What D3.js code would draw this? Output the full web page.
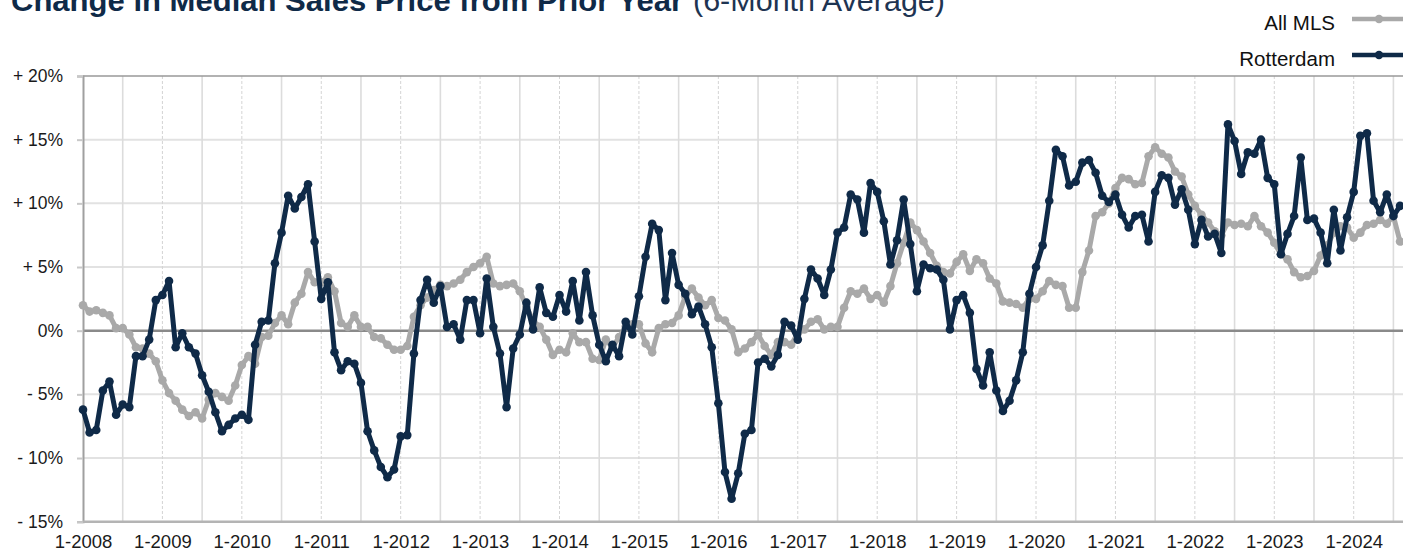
<!DOCTYPE html>
<html>
<head>
<meta charset="utf-8">
<script src="https://cdn.jsdelivr.net/npm/d3@7"></script>
<style>
  html, body { margin: 0; padding: 0; background: #fff; }
  svg { display: block; font-family: "Liberation Sans", Arial, sans-serif; }
</style>
</head>
<body>
<svg id="Trend" width="1403" height="552"></svg>
<script>
// Monthly values, 1-2008 .. 8-2024 (6-month average, % change from prior year)
const allMls = [
  2.0, 1.5, 1.6, 1.4, 1.2, 0.2, 0.2, -0.3, -1.3, -1.4, -1.8, -2.4,
  -3.9, -4.9, -5.5, -6.2, -6.7, -6.4, -6.9, -5.4, -4.9, -5.2, -5.5, -4.3,
  -2.7, -2.0, -2.6, -0.5, -0.4, 0.6, 1.2, 0.5, 2.2, 2.9, 4.6, 3.8,
  3.8, 4.2, 3.1, 0.6, 0.3, 1.2, 0.3, 0.3, -0.5, -0.6, -1.1, -1.5,
  -1.5, -1.2, 1.1, 2.0, 2.6, 3.2, 3.6, 3.5, 3.7, 4.0, 4.6, 5.0,
  5.3, 5.8, 3.7, 3.5, 3.6, 3.7, 3.1, 1.9, 0.8, 0.3, -0.7, -1.9,
  -1.5, -1.7, -0.2, -0.9, -0.9, -2.2, -2.3, -0.7, -1.3, -0.5, 0.3, 0.5,
  0.5, -1.0, -1.7, 0.2, 0.5, 0.6, 1.2, 2.7, 3.3, 2.6, 2.0, 2.4,
  1.0, 0.8, 0.1, -1.7, -1.4, -0.9, -0.3, -1.2, -1.9, -0.9, -0.9, -1.1,
  -0.2, 0.1, 0.7, 0.9, 0.1, 0.3, 0.3, 1.8, 3.1, 2.9, 3.3, 2.5,
  2.8, 2.2, 3.5, 5.3, 6.9, 8.5, 7.9, 7.0, 6.1, 5.1, 4.6, 4.5,
  5.4, 6.0, 4.7, 5.6, 5.3, 4.1, 3.7, 2.3, 2.2, 2.1, 1.8, 2.5,
  2.5, 3.1, 3.9, 3.6, 3.5, 1.8, 1.8, 4.6, 6.3, 9.0, 9.3, 10.0,
  11.2, 12.0, 11.9, 11.5, 11.6, 13.7, 14.4, 13.9, 13.6, 12.5, 12.1, 10.7,
  9.8, 9.1, 8.5, 7.8, 7.5, 8.5, 8.3, 8.4, 8.2, 9.0, 8.2, 7.7,
  6.9, 6.0, 5.6, 4.6, 4.2, 4.3, 4.7, 5.9, 6.7, 7.7, 8.2, 8.1,
  7.3, 7.7, 8.3, 8.4, 8.7, 8.4, 9.0, 7.0
];

const rotterdam = [
  -6.2, -8.0, -7.8, -4.7, -4.0, -6.6, -5.8, -6.0, -2.0, -2.0, -0.7, 2.4,
  2.8, 3.9, -1.3, -0.2, -1.3, -1.8, -3.5, -4.8, -6.4, -7.9, -7.4, -6.9,
  -6.6, -7.0, -1.1, 0.7, 0.8, 5.3, 7.7, 10.6, 9.6, 10.5, 11.5, 7.0,
  2.5, 3.8, -1.7, -3.1, -2.4, -2.6, -4.1, -7.9, -9.4, -10.7, -11.5, -10.9,
  -8.3, -8.2, -1.8, 2.4, 4.0, 2.2, 3.5, 0.3, 0.5, -0.7, 2.4, 2.4,
  -0.2, 4.1, 0.3, -1.8, -6.0, -1.4, -0.3, 2.2, 0.1, 3.4, 1.4, 1.1,
  2.8, 1.5, 3.9, 0.8, 4.6, 1.2, -1.1, -2.4, -1.1, -2.0, 0.7, -0.3,
  2.7, 5.8, 8.4, 7.9, 2.4, 6.1, 3.6, 2.9, 1.3, 1.9, 0.5, -1.3,
  -5.7, -11.1, -13.2, -11.2, -8.1, -7.8, -2.5, -2.2, -2.8, -1.9, 0.7, 0.4,
  -0.7, 2.5, 4.8, 4.1, 2.8, 4.8, 7.7, 8.1, 10.7, 10.3, 7.7, 11.6,
  10.9, 8.6, 5.2, 7.1, 10.3, 6.8, 3.1, 5.2, 4.9, 4.8, 4.0, 0.1,
  2.4, 2.8, 1.4, -3.0, -4.3, -1.7, -4.7, -6.3, -5.5, -3.9, -1.7, 2.9,
  5.0, 6.7, 10.2, 14.2, 13.7, 11.4, 11.7, 13.2, 13.4, 12.4, 10.6, 10.1,
  10.7, 9.1, 8.1, 9.0, 9.1, 7.0, 10.9, 12.2, 12.0, 9.9, 11.1, 9.5,
  6.8, 8.7, 7.4, 7.6, 6.1, 16.2, 14.9, 12.3, 14.0, 13.9, 15.0, 12.0,
  11.5, 6.0, 7.6, 9.0, 13.6, 8.7, 8.8, 7.7, 5.3, 9.5, 6.3, 8.9,
  10.9, 15.3, 15.5, 10.2, 9.3, 10.7, 9.0, 9.8
];

const yearLabels = [
  "1-2008", "1-2009", "1-2010", "1-2011", "1-2012", "1-2013", "1-2014", "1-2015", "1-2016",
  "1-2017", "1-2018", "1-2019", "1-2020", "1-2021", "1-2022", "1-2023", "1-2024"
];
const yTicks = [-15, -10, -5, 0, 5, 10, 15, 20];
const yTickLabels = ["- 15%", "- 10%", "- 5%", "0%", "+ 5%", "+ 10%", "+ 15%", "+ 20%"];

const seriesNames = ["All MLS", "Rotterdam"];
const seriesColors = ["#a9a9a9", "#0f2a48"];

const svg = d3.select("svg#Trend");
const width = Number(svg.attr("width"));

const plotLeft = 83, plotTop = 76, plotBottom = 521.7, plotRight = 1425;

const xScale = d3.scaleLinear().domain([0, 192]).range([83, 1353.7]);
const yScale = d3.scaleLinear().domain([-15, 20]).range([plotBottom, plotTop]);

// Title (cut off at the top edge in the source)
svg.append("text")
  .attr("x", 11).attr("y", 11)
  .attr("textLength", 672).attr("lengthAdjust", "spacingAndGlyphs")
  .style("font-family", "'Liberation Sans Narrow', 'Liberation Sans', Arial, sans-serif")
  .style("font-weight", "bold").style("font-size", "30px")
  .attr("fill", "#0f2a48")
  .text("Change in Median Sales Price from Prior Year");

svg.append("text")
  .attr("x", 693).attr("y", 11)
  .attr("textLength", 252).attr("lengthAdjust", "spacingAndGlyphs")
  .style("font-family", "'Liberation Sans Narrow', 'Liberation Sans', Arial, sans-serif")
  .style("font-size", "30px")
  .attr("fill", "#1e3452")
  .text("(6-Month Average)");

// Grid
const grid = svg.append("g").attr("class", "grid");

grid.selectAll("line.h")
  .data(yTicks.filter(d => d !== -15 && d !== 0 && d !== 20))
  .enter().append("line")
  .attr("x1", plotLeft).attr("x2", plotRight)
  .attr("y1", d => yScale(d)).attr("y2", d => yScale(d))
  .attr("stroke", "#e2e2e2").attr("stroke-width", 2);

const halfYears = d3.range(6, 200, 12);
grid.selectAll("line.mid")
  .data(halfYears)
  .enter().append("line")
  .attr("x1", d => xScale(d)).attr("x2", d => xScale(d))
  .attr("y1", plotTop).attr("y2", plotBottom)
  .attr("stroke", "#dcdcdc").attr("stroke-width", 1.6);

grid.selectAll("line.year")
  .data(yearLabels.slice(1).map((d, i) => (i + 1) * 12))
  .enter().append("line")
  .attr("x1", d => xScale(d)).attr("x2", d => xScale(d))
  .attr("y1", plotTop).attr("y2", plotBottom)
  .attr("stroke", "#d4d4d4").attr("stroke-width", 1)
  .attr("stroke-dasharray", "3,2");

// Frame: top border, zero line
svg.append("line")
  .attr("x1", plotLeft).attr("x2", plotRight).attr("y1", plotTop).attr("y2", plotTop)
  .attr("stroke", "#999").attr("stroke-width", 1.5);

svg.append("line")
  .attr("x1", plotLeft).attr("x2", plotRight).attr("y1", yScale(0)).attr("y2", yScale(0))
  .attr("stroke", "#8a8a8a").attr("stroke-width", 2.5);

// Y axis
const yAxis = svg.append("g")
  .attr("transform", `translate(${plotLeft},0)`)
  .call(d3.axisLeft(yScale)
    .tickValues(yTicks)
    .tickSize(6)
    .tickPadding(14)
    .tickFormat((d, i) => yTickLabels[i]));
yAxis.select(".domain").attr("stroke", "#a0a0a0").attr("stroke-width", 2);
yAxis.selectAll(".tick line").attr("stroke", "#c8c8c8").attr("stroke-width", 2);
yAxis.selectAll(".tick text")
  .attr("fill", "#1a1a1a")
  .style("font-size", "17.5px");

// X axis
const xAxis = svg.append("g")
  .attr("transform", `translate(0,${plotBottom})`)
  .call(d3.axisBottom(xScale)
    .tickValues(yearLabels.map((d, i) => i * 12))
    .tickSize(0)
    .tickPadding(13)
    .tickFormat((d, i) => yearLabels[i]));
xAxis.select(".domain").remove();
xAxis.selectAll(".tick text")
  .attr("fill", "#1a1a1a")
  .style("font-size", "18.5px");

svg.append("line")
  .attr("x1", plotLeft).attr("x2", plotRight).attr("y1", plotBottom).attr("y2", plotBottom)
  .attr("stroke", "#b4b4b4").attr("stroke-width", 2.5);

// Lines and dots
const line = d3.line()
  .x((d, i) => xScale(i))
  .y(d => yScale(d));

[allMls, rotterdam].forEach((values, s) => {
  const g = svg.append("g").attr("class", "series");
  g.append("path")
    .datum(values)
    .attr("d", line)
    .attr("fill", "none")
    .attr("stroke", seriesColors[s])
    .attr("stroke-width", 5)
    .attr("stroke-linejoin", "round");
  g.selectAll("circle")
    .data(values)
    .enter().append("circle")
    .attr("cx", (d, i) => xScale(i))
    .attr("cy", d => yScale(d))
    .attr("r", 4.3)
    .attr("fill", seriesColors[s]);
});

// Legend
const legend = svg.append("g").attr("class", "legend");
seriesNames.forEach((name, i) => {
  const cy = 19 + i * 36;
  legend.append("text")
    .attr("x", 1335).attr("y", cy + 11)
    .attr("text-anchor", "end")
    .attr("fill", "#111")
    .style("font-size", "20.5px")
    .text(name);
  legend.append("line")
    .attr("x1", 1352).attr("x2", width + 10)
    .attr("y1", cy).attr("y2", cy)
    .attr("stroke", seriesColors[i]).attr("stroke-width", 4.5);
  legend.append("circle")
    .attr("cx", 1379).attr("cy", cy).attr("r", 4.2)
    .attr("fill", seriesColors[i]);
});
</script>
</body>
</html>
